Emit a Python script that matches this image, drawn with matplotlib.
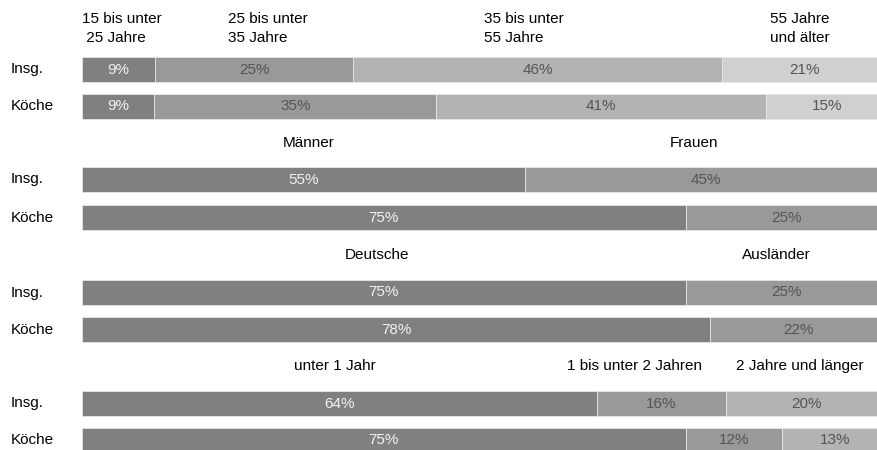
import matplotlib
matplotlib.use("Agg")
import matplotlib.pyplot as plt

plt.rcParams['font.family'] = ['Liberation Sans', 'DejaVu Sans']

# ---- data ----
row_labels = ["Insg.", "Köche"]

age_cats = ["15 bis unter\n 25 Jahre", "25 bis unter\n35 Jahre", "35 bis unter\n55 Jahre", "55 Jahre\nund älter"]
age_insg = [9.1, 24.6, 45.8, 20.6]
age_koeche = [9, 35, 41, 15]

sex_cats = ["Männer", "Frauen"]
sex_insg = [55, 45]
sex_koeche = [75, 25]

nat_cats = ["Deutsche", "Ausländer"]
nat_insg = [75, 25]
nat_koeche = [78, 22]

dur_cats = ["unter 1 Jahr", "1 bis unter 2 Jahren", "2 Jahre und länger"]
dur_insg = [64, 16, 20]
dur_koeche = [75, 12, 13]

# ---- styles / layout ----
colors4 = ["#808080", "#999999", "#b3b3b3", "#d0d0d0"]
colors3 = ["#808080", "#999999", "#b3b3b3"]
colors2 = ["#808080", "#999999"]
text_on = {"#808080": "#f2f2f2", "#999999": "#555555", "#b3b3b3": "#555555", "#d0d0d0": "#555555"}

sections = [
    dict(cats=age_cats, vals=[age_insg, age_koeche], colors=colors4,
         bar_y=[69.5, 106.5], head_y=28.5, head_x=[0, 18.1, 49.9, 85.5], head_ha="left"),
    dict(cats=sex_cats, vals=[sex_insg, sex_koeche], colors=colors2,
         bar_y=[179.5, 217.5], head_y=143, head_x=[28.2, 76.0], head_ha="center"),
    dict(cats=nat_cats, vals=[nat_insg, nat_koeche], colors=colors2,
         bar_y=[292.5, 329.5], head_y=255, head_x=[36.6, 86.2], head_ha="center"),
    dict(cats=dur_cats, vals=[dur_insg, dur_koeche], colors=colors3,
         bar_y=[403.5, 440.5], head_y=366, head_x=[31.4, 68.6, 89.2], head_ha="center"),
]

W, H = 877, 450
fig = plt.figure(figsize=(W / 100, H / 100), dpi=100)
left_px = 82
px_per_pct = 8.05
ax = fig.add_axes([left_px / W, 0, (W - left_px) / W, 1])
ax.set_xlim(0, (W - left_px) / px_per_pct)
ax.set_ylim(H, 0)
ax.axis("off")

fs = 11
bar_h = 25
label_x = -71 / px_per_pct

for sec in sections:
    for vals, y, rl in zip(sec["vals"], sec["bar_y"], row_labels):
        start = 0
        for v, c in zip(vals, sec["colors"]):
            ax.barh(y, v, left=start, height=bar_h, color=c, edgecolor="#e6e6e6", linewidth=0.6)
            ax.text(start + v / 2, y, f"{round(v)}%", ha="center", va="center",
                    fontsize=fs, color=text_on[c])
            start += v
        ax.text(label_x, y, rl, ha="left", va="center", fontsize=fs, color="black")
    for cat, hx in zip(sec["cats"], sec["head_x"]):
        ax.text(hx, sec["head_y"], cat, ha=sec["head_ha"], va="center", fontsize=fs,
                color="black", linespacing=1.45)

fig.savefig("out.png", dpi=100)
